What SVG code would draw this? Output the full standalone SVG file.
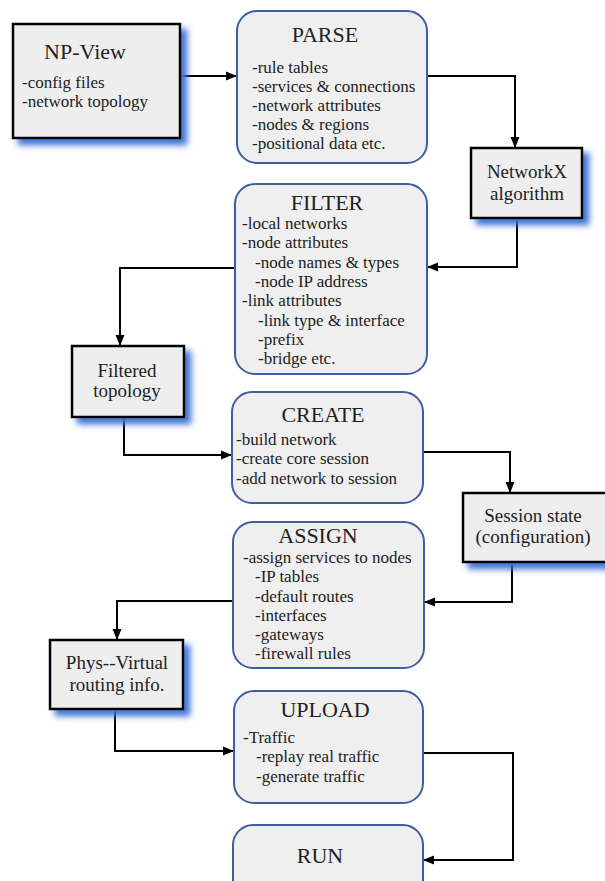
<svg xmlns="http://www.w3.org/2000/svg" width="605" height="881" viewBox="0 0 605 881" font-family="'Liberation Serif', 'Times New Roman', 'DejaVu Serif', serif">
  <defs>
    <style>
      .title, .body, .label { font-family: 'Liberation Serif', 'Times New Roman', 'DejaVu Serif', serif; fill: #222; }
      .title { font-size: 22px; text-anchor: middle; }
      .body { font-size: 17px; }
      .label { font-size: 19px; text-anchor: middle; }
      .stage { fill: #efefef; stroke: #3c5f9f; stroke-width: 2; }
      .data { fill: #eeeeee; stroke: #000; stroke-width: 2.5; }
      .wire { fill: none; stroke: #000; stroke-width: 2; marker-end: url(#arrow); }
    </style>
    <marker id="arrow" markerUnits="userSpaceOnUse" markerWidth="12" markerHeight="10" refX="11" refY="5" orient="auto">
      <path d="M0,0.5 L11,5 L0,9.5 z" fill="#000"/>
    </marker>
    <filter id="shadow" x="-10%" y="-10%" width="130%" height="130%">
      <feGaussianBlur in="SourceAlpha" stdDeviation="3" result="blur"/>
      <feOffset in="blur" dx="6" dy="6" result="off"/>
      <feFlood flood-color="#3f72d6" result="col"/>
      <feComposite in="col" in2="off" operator="in" result="sh"/>
      <feMerge>
        <feMergeNode in="sh"/>
        <feMergeNode in="SourceGraphic"/>
      </feMerge>
    </filter>
  </defs>

  <!-- connectors -->
  <g id="connectors">
    <path class="wire" d="M180,76 H237"/>
    <path class="wire" d="M427,76 H515 V148"/>
    <path class="wire" d="M517,218 V267 H427"/>
    <path class="wire" d="M235,268 H120 V346"/>
    <path class="wire" d="M124,417 V455 H232"/>
    <path class="wire" d="M423,452 H510 V493"/>
    <path class="wire" d="M512,562 V602 H424"/>
    <path class="wire" d="M233,601 H117 V640"/>
    <path class="wire" d="M115,709 V751 H234"/>
    <path class="wire" d="M423,753 H513 V860 H423"/>
  </g>

  <!-- data boxes -->
  <g id="np-view">
    <rect class="data" x="13" y="24" width="167" height="114" filter="url(#shadow)"/>
    <text class="title" x="85" y="59">NP-View</text>
    <text class="body" x="22" y="88">-config files</text>
    <text class="body" x="22" y="107">-network topology</text>
  </g>

  <g id="networkx">
    <rect class="data" x="471" y="148" width="111" height="70" filter="url(#shadow)"/>
    <text class="label" x="527" y="178">NetworkX</text>
    <text class="label" x="527" y="200">algorithm</text>
  </g>

  <g id="filtered-topology">
    <rect class="data" x="72" y="346" width="112" height="71" filter="url(#shadow)"/>
    <text class="label" x="127" y="377">Filtered</text>
    <text class="label" x="127" y="397">topology</text>
  </g>

  <g id="session-state">
    <rect class="data" x="463" y="493" width="160" height="69" filter="url(#shadow)"/>
    <text class="label" x="533" y="522">Session state</text>
    <text class="label" x="533" y="543">(configuration)</text>
  </g>

  <g id="phys-virtual">
    <rect class="data" x="50" y="640" width="133" height="69" filter="url(#shadow)"/>
    <text class="label" x="117" y="669">Phys--Virtual</text>
    <text class="label" x="117" y="691">routing info.</text>
  </g>

  <!-- stage boxes -->
  <g id="parse">
    <rect class="stage" x="237" y="11" width="190" height="152" rx="20"/>
    <text class="title" x="325" y="42">PARSE</text>
    <text class="body" x="252" y="73">-rule tables</text>
    <text class="body" x="252" y="92">-services &amp; connections</text>
    <text class="body" x="252" y="111">-network attributes</text>
    <text class="body" x="252" y="130">-nodes &amp; regions</text>
    <text class="body" x="252" y="149">-positional data etc.</text>
  </g>

  <g id="filter">
    <rect class="stage" x="235" y="184" width="192" height="190" rx="20"/>
    <text class="title" x="327" y="210">FILTER</text>
    <text class="body" x="242" y="229">-local networks</text>
    <text class="body" x="242" y="248">-node attributes</text>
    <text class="body" x="255" y="268">-node names &amp; types</text>
    <text class="body" x="255" y="287">-node IP address</text>
    <text class="body" x="242" y="306">-link attributes</text>
    <text class="body" x="258" y="326">-link type &amp; interface</text>
    <text class="body" x="258" y="345">-prefix</text>
    <text class="body" x="258" y="364">-bridge etc.</text>
  </g>

  <g id="create">
    <rect class="stage" x="232" y="392" width="191" height="111" rx="20"/>
    <text class="title" x="323" y="422">CREATE</text>
    <text class="body" x="236" y="445">-build network</text>
    <text class="body" x="236" y="464">-create core session</text>
    <text class="body" x="236" y="484">-add network to session</text>
  </g>

  <g id="assign">
    <rect class="stage" x="233" y="522" width="191" height="146" rx="20"/>
    <text class="title" x="318" y="543">ASSIGN</text>
    <text class="body" x="243" y="563">-assign services to nodes</text>
    <text class="body" x="255" y="582">-IP tables</text>
    <text class="body" x="255" y="602">-default routes</text>
    <text class="body" x="255" y="621">-interfaces</text>
    <text class="body" x="255" y="640">-gateways</text>
    <text class="body" x="255" y="659">-firewall rules</text>
  </g>

  <g id="upload">
    <rect class="stage" x="234" y="691" width="189" height="112" rx="20"/>
    <text class="title" x="325" y="717">UPLOAD</text>
    <text class="body" x="243" y="743">-Traffic</text>
    <text class="body" x="256" y="762">-replay real traffic</text>
    <text class="body" x="256" y="782">-generate traffic</text>
  </g>

  <g id="run">
    <rect class="stage" x="233" y="825" width="190" height="80" rx="20"/>
    <text class="title" x="320" y="863">RUN</text>
  </g>
</svg>
